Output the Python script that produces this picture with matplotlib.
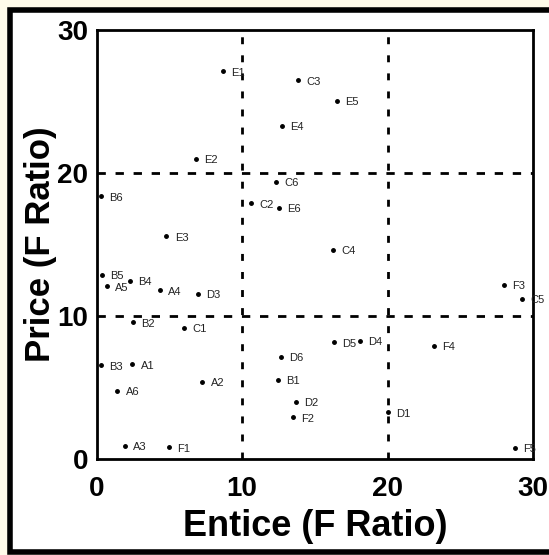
import matplotlib.pyplot as plt
import matplotlib.patches as mpatches

plt.rcParams['font.family'] = ['Liberation Sans', 'DejaVu Sans']

# Entice (x) vs Price (y) F ratios per item
labels = ['E1', 'C3', 'E5', 'E4', 'E2', 'C6', 'B6', 'C2', 'E6', 'E3',
          'C4', 'B5', 'A5', 'B4', 'A4', 'D3', 'F3', 'C5', 'B2', 'C1',
          'D5', 'D4', 'F4', 'D6', 'B3', 'A1', 'A2', 'B1', 'A6', 'D2',
          'F2', 'D1', 'A3', 'F1', 'F5']
entice = [8.66, 13.86, 16.53, 12.75, 6.83, 12.32, 0.31, 10.58, 12.53, 4.79,
          16.26, 0.36, 0.70, 2.31, 4.33, 6.95, 27.98, 29.25, 2.48, 5.99,
          16.29, 18.10, 23.19, 12.65, 0.31, 2.45, 7.26, 12.48, 1.42, 13.71,
          13.50, 20.04, 1.92, 4.96, 28.77]
price = [27.12, 26.48, 25.06, 23.30, 21.00, 19.38, 18.36, 17.89, 17.55, 15.57,
         14.61, 12.87, 12.07, 12.48, 11.80, 11.55, 12.19, 11.21, 9.57, 9.18,
         8.17, 8.25, 7.90, 7.15, 6.56, 6.61, 5.41, 5.53, 4.75, 3.99,
         2.91, 3.26, 0.91, 0.81, 0.78]

fig = plt.figure(figsize=(5.49, 5.55), dpi=100)
fig.patch.set_facecolor('#FFFBEA')
fig.patches.append(mpatches.Rectangle((10 / 549, 3 / 555), 545 / 549, 542 / 555,
                                      transform=fig.transFigure, facecolor='white',
                                      edgecolor='black', linewidth=4, zorder=-5))

ax = fig.add_axes([0.176, 0.173, 0.795, 0.773])
ax.set_zorder(2)
ax.set_facecolor('white')

ax.plot(entice, price, 'o', color='black', markersize=2.5, linestyle='none', zorder=3)
for lab, x, y in zip(labels, entice, price):
    ax.annotate(lab, (x, y), xytext=(6, -1), textcoords='offset points',
                fontsize=8, va='center', ha='left', color='#222222')

for v in (10, 20):
    ax.axvline(v, color='black', linewidth=2, dashes=(2.5, 4), zorder=1)
    ax.axhline(v, color='black', linewidth=2, dashes=(3, 3.5), zorder=1)

ax.set_xlim(0, 30)
ax.set_ylim(0, 30)
ax.set_xticks([0, 10, 20, 30])
ax.set_yticks([0, 10, 20, 30])
ax.tick_params(length=0, labelsize=20)
ax.tick_params(axis='x', pad=12)
ax.tick_params(axis='y', pad=6)
for t in ax.get_xticklabels() + ax.get_yticklabels():
    t.set_fontweight('bold')
for spine in ax.spines.values():
    spine.set_linewidth(2)

ax.set_xlabel('Entice (F Ratio)', fontsize=26, fontweight='bold', labelpad=5)
ax.set_ylabel('Price (F Ratio)', fontsize=25, fontweight='bold', labelpad=0)

plt.savefig('out.png', dpi=100, facecolor=fig.get_facecolor())
